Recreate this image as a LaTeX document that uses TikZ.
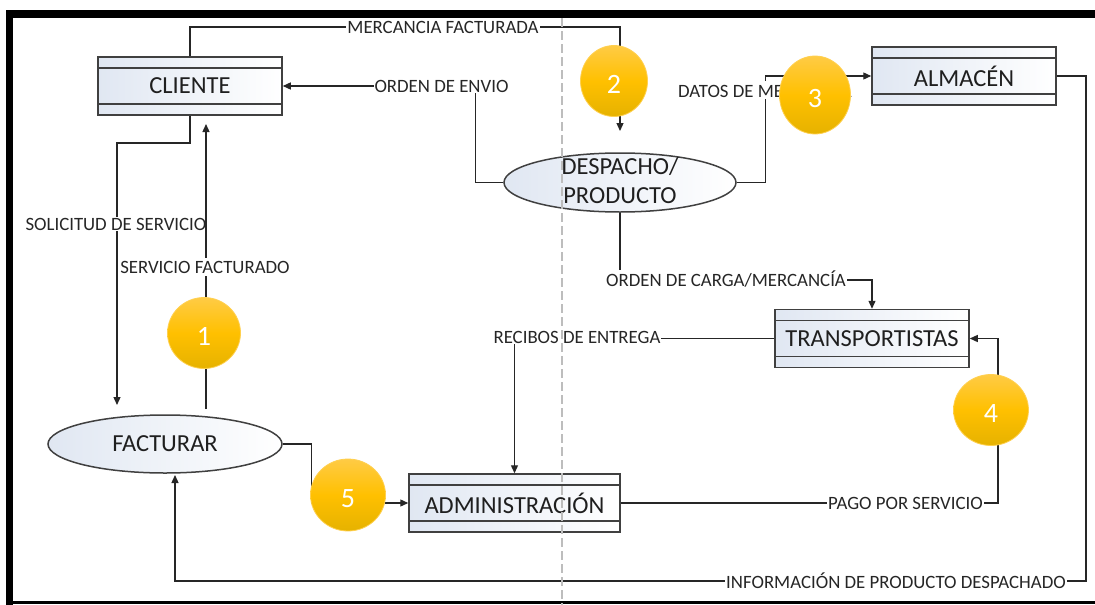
\documentclass[tikz,border=0pt]{standalone}
\usepackage{fontspec}
\setmainfont{Carlito}
\usetikzlibrary{arrows.meta,shapes.geometric,calc}

\definecolor{edge}{HTML}{404040}
\definecolor{wire}{HTML}{262626}
\definecolor{boxtint}{HTML}{E0E7F2}
\definecolor{ytop}{HTML}{FFCB45}
\definecolor{ymid}{HTML}{FFC000}
\definecolor{ybot}{HTML}{E6B200}
\definecolor{ring}{HTML}{FFD04F}
\definecolor{guide}{HTML}{BDBDBD}

\begin{document}
\begin{tikzpicture}[x=1pt,y=-1pt,
  entity/.style={draw=edge, line width=1.5pt, minimum width=#1, minimum height=58pt,
    inner sep=0pt, left color=boxtint, right color=white,
    font=\fontsize{24.5}{26}\selectfont, text=black!88,
    path picture={
      \draw[edge,line width=1.3pt] ([yshift=-11pt]path picture bounding box.north west) -- ([yshift=-11pt]path picture bounding box.north east);
      \draw[edge,line width=1.3pt] ([yshift=11pt]path picture bounding box.south west) -- ([yshift=11pt]path picture bounding box.south east);}},
  process/.style={ellipse, draw=edge, line width=1.5pt, minimum width=#1, minimum height=58pt,
    inner sep=0pt, left color=boxtint, right color=white,
    font=\fontsize{24.5}{29}\selectfont, text=black!88},
  flow/.style={draw=wire, line width=1.3pt, -{Triangle[length=8pt,width=7pt]}},
  tag/.style={fill=white, inner xsep=1pt, inner ysep=1pt,
    font=\fontsize{18.8}{20}\selectfont, text=wire},
  badge/.style={ellipse, minimum width=73pt, minimum height=71pt, inner sep=0pt,
    top color=ytop, bottom color=ybot, middle color=ymid, draw=ring, line width=0.8pt,
    text=white, font=\fontsize{28}{30}\selectfont, text height=25pt, text depth=0pt}
]
\useasboundingbox (0,0) rectangle (1095,605);
\fill[white] (0,0) rectangle (1095,605);

% frame
\fill[black] (6,10) rectangle (1095,18);
\fill[black] (6,10) rectangle (13,605);
\fill[black] (6,601) rectangle (1095,603.5);

% stores and processes
\node[entity=184pt] (cl)  at (190,86)    {CLIENTE};
\node[entity=184pt] (alm) at (964,76)    {ALMACÉN};
\node[entity=194pt] (tra) at (872,338.5) {TRANSPORTISTAS};
\node[entity=211pt] (adm) at (514.5,503) {ADMINISTRACIÓN};
\node[process=232pt, minimum height=59pt] (desp) at (620,182.5) {};
\node[font=\fontsize{24.5}{29}\selectfont, text=black!88, align=center, inner sep=0pt] (despT) at (620,181) {DESPACHO/\\PRODUCTO};
\node[process=234pt] (fact) at (165,444) {FACTURAR};

% bends and free ends
\coordinate (mfBend) at (620,27);
\coordinate (mfTip)  at (620,131);
\coordinate (solBend) at (117,143);
\coordinate (solTip)  at (117,405);
\coordinate (sfFoot) at (206,409);
\coordinate (sfTip)  at (206,124);
\coordinate (ocBend) at (872,280);
\coordinate (ppBend) at (998,503);
\coordinate (infoR) at (1086,581);
\coordinate (infoL) at (175,581);
\coordinate (factIn) at (175,475);

% flows
\draw[flow] (cl.north) |- (mfBend) -- (mfTip);
\draw[flow] (desp.west) -- ++(-28,0) |- (cl.east);
\draw[flow] (desp.east) -- ++(29,0) |- (alm.west);
\draw[flow] (alm.east) -| (infoR) -- (infoL) -- (factIn);
\draw[flow] (cl.south) |- (solBend) -- (solTip);
\draw[flow] (desp.south) |- (ocBend) -- (tra.north);
\draw[flow] (tra.west) -| (adm.north);
\draw[flow] (adm.east) -- (ppBend) |- (tra.east);
\draw[flow] (fact.east) -- ++(29,0) |- (adm.west);

% flow labels
\node[tag] (lMerc) at (443,27)    {MERCANCIA FACTURADA};
\node[tag] (lEnv)  at (441.5,86)  {ORDEN DE ENVIO};
\node[tag] (lDat)  at (765,90)    {DATOS DE MERCANCÍA};
\node[tag] (lSol)  at (116,224)   {SOLICITUD DE SERVICIO};
\node[tag] (lCar)  at (726,279)   {ORDEN DE CARGA/MERCANCÍA};
\node[tag] (lRec)  at (577,337)   {RECIBOS DE ENTREGA};
\node[tag] (lPag)  at (905.5,503) {PAGO POR SERVICIO};
\node[tag] (lInf)  at (896,581)   {INFORMACIÓN DE PRODUCTO DESPACHADO};

\draw[flow] (sfFoot) -- (sfTip);
\node[tag, inner ysep=3pt] (lSer) at (205,267) {SERVICIO FACTURADO};

% numbered markers
\node[badge] (b1) at (204,333) {1};
\node[badge, minimum width=67pt] (b2) at (614,81) {2};
\node[badge, minimum width=71pt, minimum height=78pt] (b3) at (815,95) {3};
\node[badge, minimum width=75pt] (b4) at (991,410) {4};
\node[badge, minimum width=75pt, minimum height=72pt] (b5) at (348,495) {5};

% dashed guide
\draw[guide, line width=1.2pt, dash pattern=on 9pt off 4pt] (562,18) -- (562,605);
\end{tikzpicture}
\end{document}
